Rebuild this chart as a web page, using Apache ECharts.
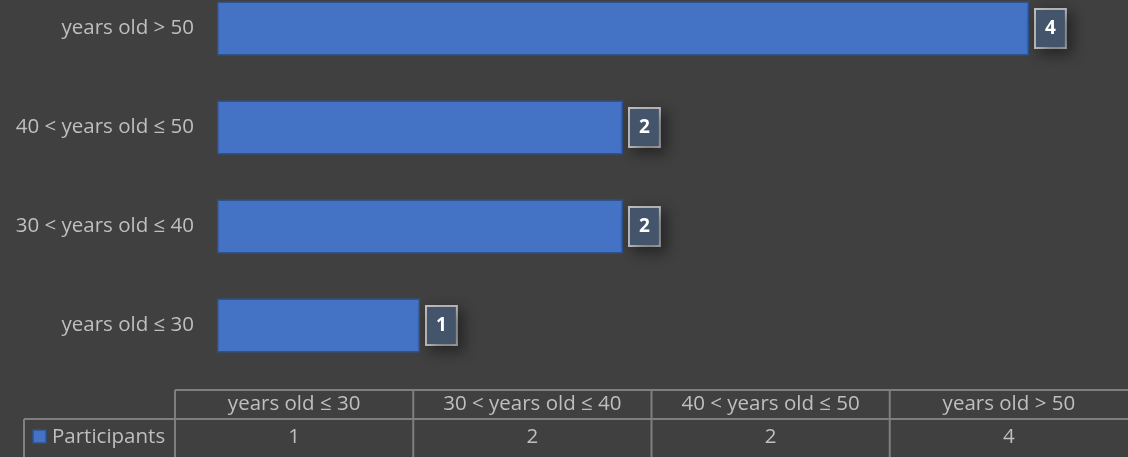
<!DOCTYPE html>
<html><head><meta charset="utf-8">
<script src="https://cdn.jsdelivr.net/npm/echarts@6/dist/echarts.min.js"></script>
<style>html,body{margin:0;padding:0;background:#404040;overflow:hidden;}#c{position:absolute;left:0;top:-21px;width:1128px;height:478px;}</style>
</head><body><div id="c"></div>
<script>
const categories = ['years old ≤ 30', '30 < years old ≤ 40', '40 < years old ≤ 50', 'years old > 50'];
const seriesName = 'Participants';
const participants = [1, 2, 2, 4];

const FONT = 'Open Sans';
const FS = 20.5;
const TXT = '#bfbfbf';
const LINE = '#7f7f7f';
const OFF = 21; // container is shifted up by this many px

const chart = echarts.init(document.getElementById('c'));

// data table graphics built from the arrays
const tblLeft = 175, tblRight = 1128, rowTop = 390 + OFF, rowMid = 419 + OFF, rowBot = 480 + OFF, legLeft = 24;
const colW = (tblRight - tblLeft) / categories.length;
const font = FS + 'px "' + FONT + '"';
const g = [];
g.push({type:'line', shape:{x1:tblLeft, y1:rowTop, x2:tblRight, y2:rowTop}, style:{stroke:LINE, lineWidth:2}});
g.push({type:'line', shape:{x1:legLeft, y1:rowMid, x2:tblRight, y2:rowMid}, style:{stroke:LINE, lineWidth:2}});
g.push({type:'line', shape:{x1:legLeft, y1:rowMid, x2:legLeft, y2:rowBot}, style:{stroke:LINE, lineWidth:2}});
for (let i = 0; i < categories.length; i++) {
  const x = tblLeft + i * colW;
  g.push({type:'line', shape:{x1:x, y1:rowTop, x2:x, y2:rowBot}, style:{stroke:LINE, lineWidth:2}});
  g.push({type:'text', x: x + colW/2, y:(rowTop+rowMid)/2, style:{text:categories[i], fill:TXT, font:font, align:'center', verticalAlign:'middle'}});
  g.push({type:'text', x: x + colW/2, y:437 + OFF, style:{text:String(participants[i]), fill:TXT, font:font, align:'center', verticalAlign:'middle'}});
}
g.push({type:'rect', shape:{x:33, y:430 + OFF, width:13, height:13}, style:{fill:'#4472c4', stroke:'#2f528f', lineWidth:1.5}});
g.push({type:'text', x:52, y:437 + OFF, style:{text:seriesName, fill:TXT, font:font, align:'left', verticalAlign:'middle'}});

chart.setOption({
  backgroundColor:'#404040',
  animation:false,
  grid:{left:217, right:1128-1029, top:0, height:396, containLabel:false},
  xAxis:{type:'value', min:0, max:4, show:false},
  yAxis:{type:'category', data:categories, axisLine:{show:false}, axisTick:{show:false},
    axisLabel:{color:TXT, fontFamily:FONT, fontSize:FS, margin:23}},
  series:[{
    name:seriesName, type:'bar', data:participants, barWidth:54,
    itemStyle:{color:'#4472c4', borderColor:'#2f528f', borderWidth:1.5},
    label:{show:true, position:'right', distance:7, color:'#ffffff', fontWeight:'bold', fontFamily:FONT, fontSize:19, lineHeight:21,
      backgroundColor:'#44546a', borderColor:'#bfbfbf', borderWidth:2, padding:[8,9,8,9],
      shadowColor:'rgba(0,0,0,0.4)', shadowBlur:14, shadowOffsetX:5, shadowOffsetY:5}
  }],
  graphic:g
});
</script></body></html>
